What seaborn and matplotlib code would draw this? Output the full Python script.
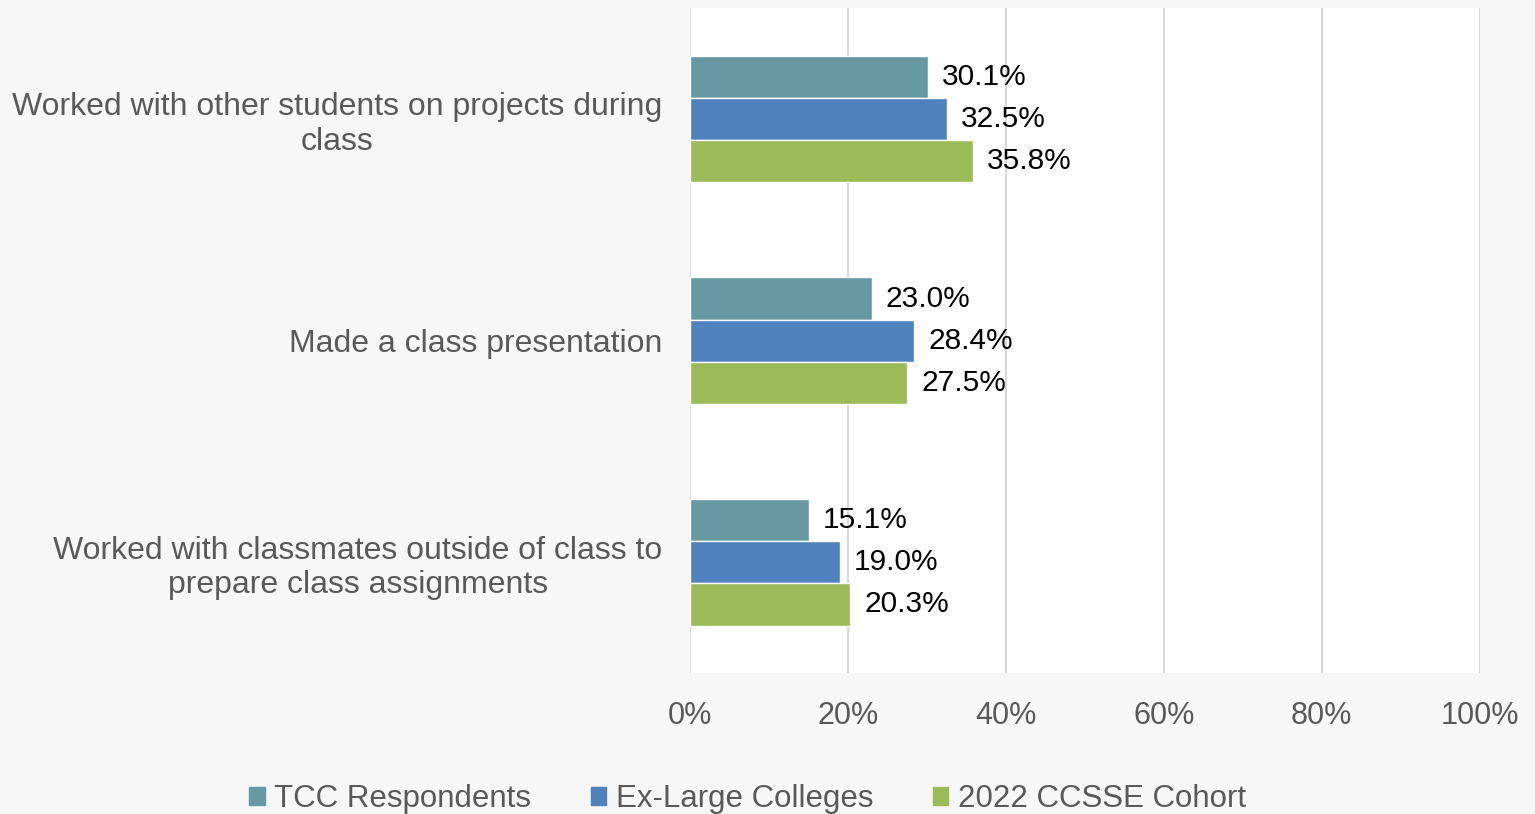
import pandas as pd
import matplotlib.pyplot as plt
import seaborn as sns
from matplotlib.ticker import PercentFormatter

categorias = ["Worked with other students on projects during\nclass",
              "Made a class presentation",
              "Worked with classmates outside of class to\nprepare class assignments"]
grupos = ["TCC Respondents", "Ex-Large Colleges", "2022 CCSSE Cohort"]
tcc = [30.1, 23.0, 15.1]
ex_large = [32.5, 28.4, 19.0]
cohort = [35.8, 27.5, 20.3]
cores = ["#6699A1", "#4F81BD", "#9BBB59"]

df = pd.DataFrame({
    "categoria": categorias * 3,
    "grupo": [g for g in grupos for _ in categorias],
    "valor": tcc + ex_large + cohort,
})

sns.set_style("white")
plt.rcParams["font.family"] = ["Liberation Sans", "DejaVu Sans"]

fig = plt.figure(figsize=(15.35, 8.14), dpi=100, facecolor="#f7f7f7")
ax = fig.add_axes([0.4495, 0.173, 0.5145, 0.817])
ax.set_facecolor("white")

sns.barplot(data=df, y="categoria", x="valor", hue="grupo", order=categorias,
            hue_order=grupos, palette=cores, orient="h", width=0.57,
            saturation=1, ax=ax)

# rótulos de dados ao lado de cada barra
for cont in ax.containers:
    ax.bar_label(cont, labels=[f"{v:.1f}%" for v in cont.datavalues],
                 padding=10, fontsize=21.5, color="black")

ax.set_xlim(0, 100)
ax.set_xticks([0, 20, 40, 60, 80, 100])
ax.xaxis.set_major_formatter(PercentFormatter(decimals=0))
ax.grid(axis="x", color="#d9d9d9", linewidth=1.5)
ax.set_axisbelow(True)
for s in ax.spines.values():
    s.set_visible(False)
ax.set_xlabel("")
ax.set_ylabel("")
ax.tick_params(axis="x", labelsize=22, labelcolor="#595959", length=0, pad=20)
ax.tick_params(axis="y", labelsize=23, labelcolor="#595959", length=0, pad=20)
for lbl in ax.get_yticklabels():
    lbl.set_multialignment("center")

ax.legend_.remove()
handles = [plt.Rectangle((0, 0), 1, 1, color=c) for c in cores]
fig.legend(handles, grupos, loc="center", bbox_to_anchor=(0.487, 0.018),
           ncol=3, frameon=False, fontsize=22.5, labelcolor="#595959",
           handlelength=0.5, handleheight=0.5, handletextpad=0.3,
           columnspacing=1.9)

fig.savefig("out.png", dpi=100, facecolor=fig.get_facecolor())
